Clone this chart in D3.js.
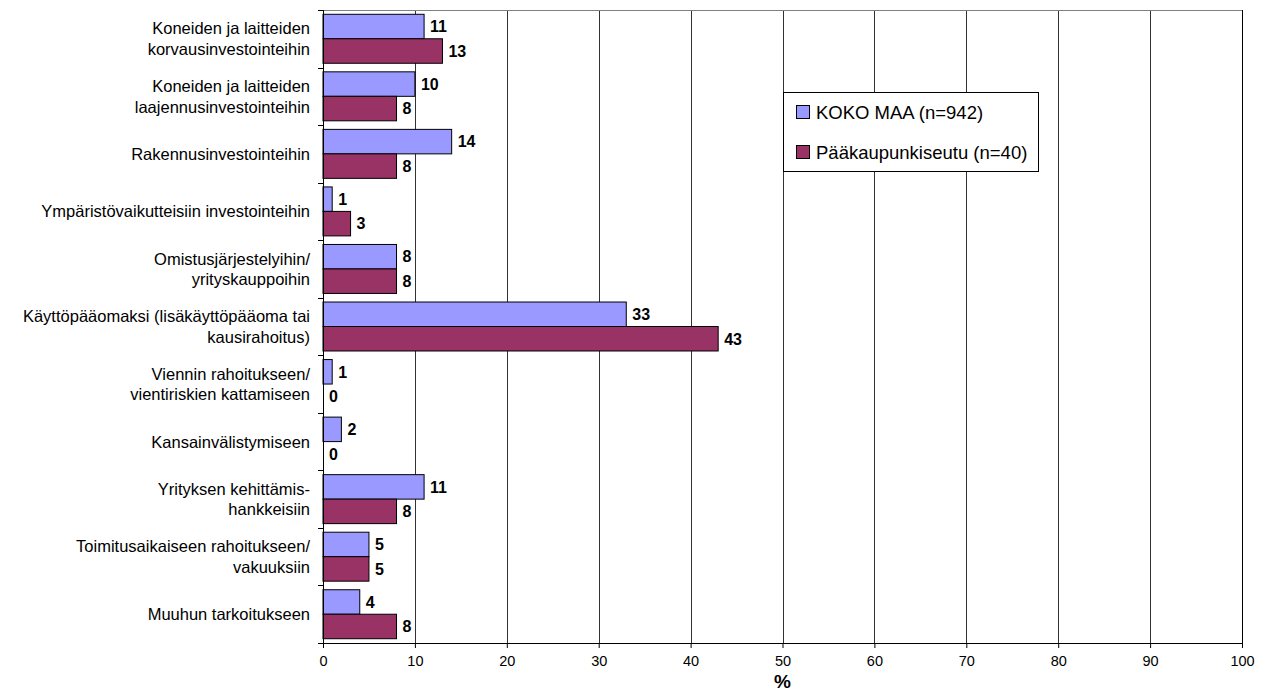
<!DOCTYPE html>
<html>
<head>
<meta charset="utf-8">
<script src="https://cdn.jsdelivr.net/npm/d3@7"></script>
<style>
  body { margin: 0; background: #fff; }
  svg { display: block; font-family: "Liberation Sans", Arial, sans-serif; }
</style>
</head>
<body>
<div id="chart"></div>
<script>
// Categories (line breaks as in the original)
var categories = [
    ["Koneiden ja laitteiden", "korvausinvestointeihin"],
    ["Koneiden ja laitteiden", "laajennusinvestointeihin"],
    ["Rakennusinvestointeihin"],
    ["Ympäristövaikutteisiin investointeihin"],
    ["Omistusjärjestelyihin/", "yrityskauppoihin"],
    ["Käyttöpääomaksi (lisäkäyttöpääoma tai", "kausirahoitus)"],
    ["Viennin rahoitukseen/", "vientiriskien kattamiseen"],
    ["Kansainvälistymiseen"],
    ["Yrityksen kehittämis-", "hankkeisiin"],
    ["Toimitusaikaiseen rahoitukseen/", "vakuuksiin"],
    ["Muuhun tarkoitukseen"]
];
var seriesNames = ["KOKO MAA (n=942)", "Pääkaupunkiseutu (n=40)"];
var kokoMaa = [11, 10, 14, 1, 8, 33, 1, 2, 11, 5, 4];
var paakaupunkiseutu = [13, 8, 8, 3, 8, 43, 0, 0, 8, 5, 8];
var xTicks = [0, 10, 20, 30, 40, 50, 60, 70, 80, 90, 100];
var colors = ["#9999ff", "#993366"];

function init() {
    var w = 1267;
    var h = 692;
    var plot = { left: 323, right: 1242, top: 10, bottom: 643 };

    var svg = d3.select("#chart")
        .append("svg")
        .attr("width", w)
        .attr("height", h);

    var keys = categories.map((c, i) => i);
    var values = [kokoMaa, paakaupunkiseutu];

    var xScale = d3.scaleLinear().domain([0, 100]).range([plot.left, plot.right]);
    var yScale = d3.scaleBand().domain(keys).range([plot.top, plot.bottom]).padding(0);
    var ySub = d3.scaleBand().domain([0, 1]).range([0, yScale.bandwidth()])
        .paddingInner(0).paddingOuter(0.175);

    // Gridlines
    svg.append("g")
        .selectAll("line")
        .data(xTicks.slice(1, -1))
        .enter().append("line")
        .attr("x1", d => Math.round(xScale(d)) + 0.5)
        .attr("x2", d => Math.round(xScale(d)) + 0.5)
        .attr("y1", plot.top)
        .attr("y2", plot.bottom)
        .attr("stroke", "#333")
        .attr("stroke-width", 1);

    // Top border (grey) and right border (black)
    svg.append("line")
        .attr("x1", plot.left).attr("x2", plot.right + 0.5)
        .attr("y1", plot.top + 0.5).attr("y2", plot.top + 0.5)
        .attr("stroke", "#808080");
    svg.append("line")
        .attr("x1", plot.right + 0.5).attr("x2", plot.right + 0.5)
        .attr("y1", plot.top).attr("y2", plot.bottom)
        .attr("stroke", "#000");

    // Bars
    values.forEach(function(vals, s) {
        svg.append("g")
            .selectAll("rect")
            .data(vals.map((v, i) => ({ i: i, v: v })).filter(d => d.v > 0))
            .enter().append("rect")
            .attr("x", xScale(0))
            .attr("y", d => yScale(d.i) + ySub(s))
            .attr("width", d => xScale(d.v) - xScale(0))
            .attr("height", ySub.bandwidth())
            .attr("fill", colors[s])
            .attr("stroke", "#000")
            .attr("stroke-width", 1);

        svg.append("g")
            .selectAll("text")
            .data(vals.map((v, i) => ({ i: i, v: v })))
            .enter().append("text")
            .attr("x", d => xScale(d.v) + 6)
            .attr("y", d => yScale(d.i) + ySub(s) + ySub.bandwidth() / 2)
            .attr("dy", "0.36em")
            .attr("font-size", "16px")
            .attr("font-weight", "bold")
            .attr("fill", "#000")
            .text(d => d.v);
    });

    // Left axis
    var yAxis = svg.append("g").attr("transform", "translate(" + plot.left + ",0)");
    yAxis.append("line")
        .attr("x1", 0.5).attr("x2", 0.5)
        .attr("y1", plot.top).attr("y2", plot.bottom)
        .attr("stroke", "#000");
    yAxis.selectAll(".sep")
        .data(keys.concat([keys.length]))
        .enter().append("line")
        .attr("x1", -5).attr("x2", 0.5)
        .attr("y1", d => Math.round(plot.top + d * yScale.step()) + 0.5)
        .attr("y2", d => Math.round(plot.top + d * yScale.step()) + 0.5)
        .attr("stroke", "#000");

    // Category labels
    var lineH = 20.5;
    var labels = svg.append("g")
        .selectAll("text")
        .data(categories)
        .enter().append("text")
        .attr("text-anchor", "end")
        .attr("font-size", "16.5px")
        .attr("fill", "#000");
    labels.each(function(lines, i) {
        var cy = yScale(i) + yScale.bandwidth() / 2;
        var start = cy - (lines.length - 1) * lineH / 2;
        d3.select(this).selectAll("tspan")
            .data(lines)
            .enter().append("tspan")
            .attr("x", 310)
            .attr("y", (d, j) => start + j * lineH)
            .attr("dy", "0.36em")
            .text(d => d);
    });

    // Bottom axis
    var xAxis = svg.append("g")
        .attr("transform", "translate(0," + plot.bottom + ")")
        .call(d3.axisBottom(xScale).tickValues(xTicks).tickSize(5).tickPadding(8).tickFormat(d3.format("d")));
    xAxis.select(".domain").attr("stroke", "#000").attr("d", "M" + plot.left + ",0.5H" + (plot.right + 0.5));
    xAxis.selectAll(".tick line").attr("stroke", "#000");
    xAxis.selectAll(".tick text")
        .attr("font-size", "14.5px")
        .attr("font-family", "Liberation Sans, Arial, sans-serif")
        .attr("fill", "#000");

    // Axis title
    svg.append("text")
        .attr("text-anchor", "middle")
        .attr("x", (plot.left + plot.right) / 2)
        .attr("y", 688)
        .attr("font-size", "19px")
        .attr("font-weight", "bold")
        .text("%");

    // Legend
    var legend = svg.append("g").attr("transform", "translate(783,92)");
    legend.append("rect")
        .attr("x", 0.5).attr("y", 0.5)
        .attr("width", 255).attr("height", 79)
        .attr("fill", "#fff")
        .attr("stroke", "#000");
    seriesNames.forEach(function(name, s) {
        var cy = 20 + s * 40;
        legend.append("rect")
            .attr("x", 13.5).attr("y", cy - 6.5)
            .attr("width", 13).attr("height", 13)
            .attr("fill", colors[s])
            .attr("stroke", "#000");
        legend.append("text")
            .attr("x", 33)
            .attr("y", cy)
            .attr("dy", "0.36em")
            .attr("font-size", "18.5px")
            .attr("fill", "#000")
            .text(name);
    });
}

window.onload = init;
</script>
</body>
</html>
